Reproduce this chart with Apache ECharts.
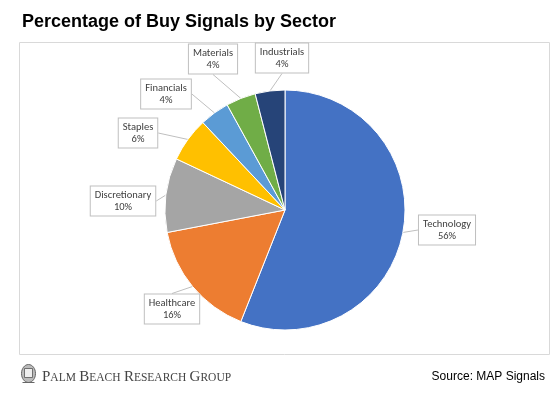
<!DOCTYPE html>
<html>
<head>
<meta charset="utf-8">
<script src="https://cdn.jsdelivr.net/npm/echarts@6/dist/echarts.min.js"></script>
<style>html,body{margin:0;padding:0;background:#fff;}#c{width:560px;height:393px;}</style>
</head>
<body>
<div id="c"></div>
<script>
const categories = ['Technology', 'Healthcare', 'Discretionary', 'Staples', 'Financials', 'Materials', 'Industrials'];
const values = [56, 16, 10, 6, 4, 4, 4];
const colors = ['#4472C4', '#ED7D31', '#A5A5A5', '#FFC000', '#5B9BD5', '#70AD47', '#264478'];
const labelCenters = [[447, 230], [172, 309], [123, 201], [138, 133], [166, 94], [213, 59], [282, 58]];

const chart = echarts.init(document.getElementById('c'), null, {renderer: 'canvas'});
chart.setOption({
  animation: false,
  title: {
    text: 'Percentage of Buy Signals by Sector',
    left: 17, top: 8,
    textStyle: {fontFamily: 'Liberation Sans, Arial', fontWeight: 'bold', fontSize: 18, color: '#000'}
  },
  graphic: [
    {type: 'rect', z: -1, shape: {x: 19.5, y: 42.5, width: 530, height: 312}, style: {fill: 'none', stroke: '#d9d9d9', lineWidth: 1}},
    {type: 'group', left: 20, top: 364, children: [
      {type: 'ellipse', shape: {cx: 8, cy: 12, rx: 7, ry: 9}, style: {fill: '#bbb', stroke: '#666', lineWidth: 1}},
      {type: 'rect', shape: {x: 4, y: 7, width: 8, height: 9}, style: {fill: '#eee', stroke: '#555', lineWidth: 0.8}},
      {type: 'line', shape: {x1: 2, y1: 21, x2: 14, y2: 21}, style: {stroke: '#666', lineWidth: 1}}
    ]},
    {type: 'text', left: 42, top: 370, style: {
      text: '{b|P}{s|ALM} {b|B}{s|EACH} {b|R}{s|ESEARCH} {b|G}{s|ROUP}',
      rich: {
        b: {fontFamily: 'Liberation Serif, Times New Roman', fontSize: 15, fill: '#444'},
        s: {fontFamily: 'Liberation Serif, Times New Roman', fontSize: 11.5, fill: '#444'}
      }
    }},
    {type: 'text', right: 15, top: 371, style: {text: 'Source: MAP Signals', font: '12px "Liberation Sans", Arial', fill: '#000'}}
  ],
  series: [{
    type: 'pie',
    center: [285, 210],
    radius: 120,
    startAngle: 90,
    clockwise: true,
    color: colors,
    itemStyle: {borderColor: '#fff', borderWidth: 1},
    label: {
      show: true,
      position: 'outside',
      formatter: p => p.name + '\n' + p.value + '%',
      fontFamily: 'Carlito, Lato, sans-serif',
      fontSize: 10.5,
      lineHeight: 12,
      color: '#404040',
      align: 'center',
      backgroundColor: '#fff',
      borderColor: '#bfbfbf',
      borderWidth: 1,
      padding: [3, 4, 2, 4]
    },
    labelLine: {show: true, length: 10, length2: 0, lineStyle: {color: '#bfbfbf', width: 1}},
    labelLayout: function (params) {
      const c = labelCenters[params.dataIndex];
      return {x: c[0], y: c[1], align: 'center', verticalAlign: 'middle'};
    },
    data: categories.map((n, i) => ({name: n, value: values[i]}))
  }]
});
</script>
</body>
</html>
